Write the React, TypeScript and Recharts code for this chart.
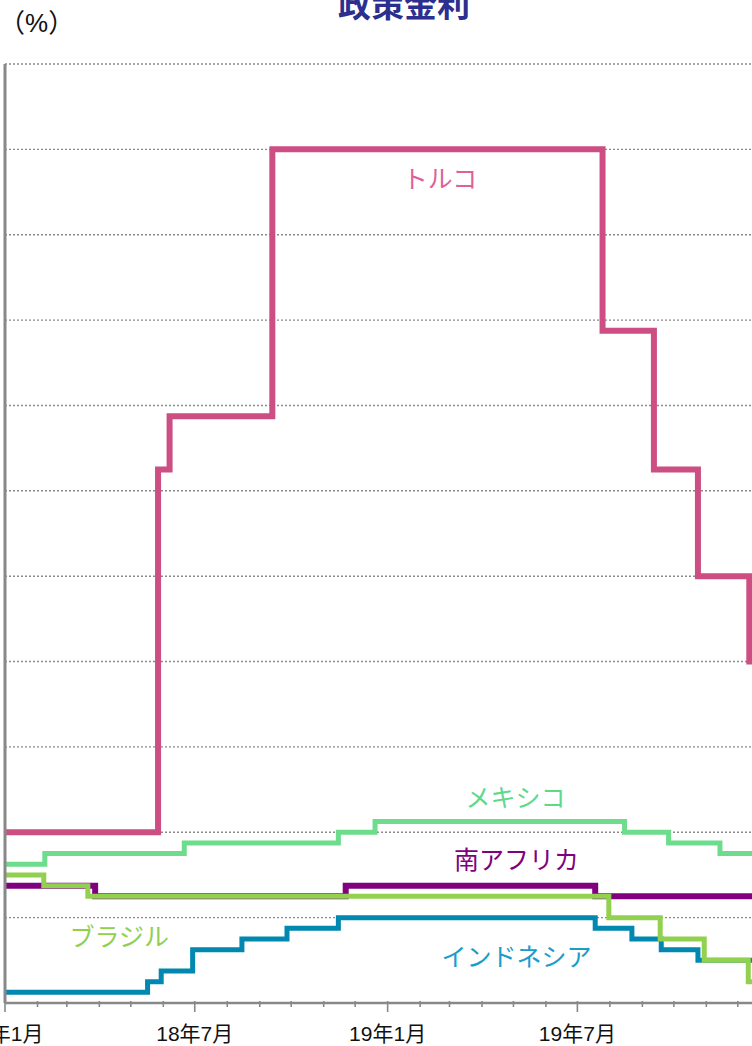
import React from 'react';
import { LineChart, Line, XAxis, YAxis, CartesianGrid, ReferenceDot } from 'recharts';

const START = Date.UTC(2018, 0, 1);
const dayOf = (s: string) => {
  const [y, m, d] = s.split('-').map(Number);
  return Math.round((Date.UTC(y, m - 1, d || 1) - START) / 86400000);
};

const DOMAIN_END = '2020-01-16';

const turkeyDates = ['2018-01-01', '2018-05-27', '2018-06-07', '2018-09-13', '2019-07-25', '2019-09-12', '2019-10-24', '2019-12-12', DOMAIN_END];
const turkeyRates = [8, 16.5, 17.75, 24, 19.75, 16.5, 14, 12, 12];

const mexicoDates = ['2018-01-01', '2018-02-08', '2018-06-21', '2018-11-15', '2018-12-20', '2019-08-15', '2019-09-26', '2019-11-14', '2019-12-19', DOMAIN_END];
const mexicoRates = [7.25, 7.5, 7.75, 8, 8.25, 8, 7.75, 7.5, 7.25, 7.25];

const southAfricaDates = ['2018-01-01', '2018-03-28', '2018-11-22', '2019-07-18', DOMAIN_END];
const southAfricaRates = [6.75, 6.5, 6.75, 6.5, 6.5];

const brazilDates = ['2018-01-01', '2018-02-07', '2018-03-21', '2019-07-31', '2019-09-18', '2019-10-30', '2019-12-11', DOMAIN_END];
const brazilRates = [7, 6.75, 6.5, 6, 5.5, 5, 4.5, 4.5];

const indonesiaDates = ['2018-01-01', '2018-05-17', '2018-05-30', '2018-06-29', '2018-08-15', '2018-09-27', '2018-11-15', '2019-07-18', '2019-08-22', '2019-09-19', '2019-10-24', DOMAIN_END];
const indonesiaRates = [4.25, 4.5, 4.75, 5.25, 5.5, 5.75, 6, 5.75, 5.5, 5.25, 5, 5];

const tickMonths = [
  '2018-01', '2018-02', '2018-03', '2018-04', '2018-05', '2018-06', '2018-07', '2018-08', '2018-09', '2018-10', '2018-11', '2018-12',
  '2019-01', '2019-02', '2019-03', '2019-04', '2019-05', '2019-06', '2019-07', '2019-08', '2019-09', '2019-10', '2019-11', '2019-12',
  '2020-01',
];
const majorMonths = ['2018-01', '2018-07', '2019-01', '2019-07', '2020-01'];
const majorLabels: Record<string, string> = {
  '2018-01': '18年1月',
  '2018-07': '18年7月',
  '2019-01': '19年1月',
  '2019-07': '19年7月',
};
const yTicks = [4, 6, 8, 10, 12, 14, 16, 18, 20, 22, 24, 26];

const build = (dates: string[], rates: number[]) => dates.map((d, i) => ({ d: dayOf(d), v: rates[i] }));

const turkey = build(turkeyDates, turkeyRates);
const mexico = build(mexicoDates, mexicoRates);
const southAfrica = build(southAfricaDates, southAfricaRates);
const brazil = build(brazilDates, brazilRates);
const indonesia = build(indonesiaDates, indonesiaRates);

const tickDays = tickMonths.map((m) => dayOf(m + '-01'));
const majorDays = new Set(majorMonths.map((m) => dayOf(m + '-01')));
const labelByDay: Record<number, string> = {};
tickMonths.forEach((m) => {
  if (majorLabels[m]) labelByDay[dayOf(m + '-01')] = majorLabels[m];
});

const FONT = '"Liberation Sans", Arial, "Noto Sans CJK JP", sans-serif';
const CJK = '"Noto Sans CJK JP", sans-serif';

const MonthTick = (props: any) => {
  const { x, y, payload } = props;
  const label = labelByDay[payload.value];
  const major = majorDays.has(payload.value);
  return (
    <g>
      <line x1={x} x2={x} y1={y - 2} y2={y + (major ? 9 : 4)} stroke="#888" strokeWidth={1.6} />
      {label && (
        <text x={x} y={y + 38} textAnchor="middle" fontSize={21} fill="#111" fontFamily={FONT}>
          {label}
        </text>
      )}
    </g>
  );
};

const EmptyTick = () => <g />;

const labelStyle = (value: string, fill: string) => ({
  value,
  position: 'center' as const,
  fill,
  fontSize: 25,
  fontFamily: CJK,
});

export default function App() {
  return (
    <div
      style={{
        position: 'fixed',
        left: 0,
        top: 0,
        width: 752,
        height: 1046,
        overflow: 'hidden',
        background: '#fff',
        fontFamily: FONT,
      }}
    >
      <div
        style={{
          position: 'absolute',
          left: 338,
          top: -13,
          fontSize: 33,
          lineHeight: '33px',
          fontWeight: 'bold',
          color: '#2b2f8f',
          fontFamily: CJK,
          whiteSpace: 'nowrap',
        }}
      >
        政策金利
      </div>
      <div
        style={{
          position: 'absolute',
          left: -1,
          top: 4,
          fontSize: 26,
          lineHeight: '34px',
          color: '#111',
          whiteSpace: 'nowrap',
        }}
      >
        <span style={{ fontFamily: CJK }}>（</span>
        <span style={{ fontFamily: '"Liberation Sans", Arial, sans-serif' }}>%</span>
        <span style={{ fontFamily: CJK }}>）</span>
      </div>
      <div style={{ position: 'absolute', left: -60, top: 0 }}>
        <LineChart width={846} height={1046} margin={{ top: 64, right: 0, bottom: 0, left: 0 }}>
          <CartesianGrid vertical={false} stroke="#8a8a8a" strokeDasharray="2 2" strokeWidth={1.4} />
          <XAxis
            dataKey="d"
            type="number"
            domain={[0, dayOf(DOMAIN_END)]}
            ticks={tickDays}
            interval={0}
            height={43}
            tickLine={false}
            tickSize={0}
            tickMargin={0}
            axisLine={{ stroke: '#888', strokeWidth: 2.5 }}
            tick={<MonthTick />}
            allowDataOverflow
          />
          <YAxis
            type="number"
            domain={[4, 26]}
            ticks={yTicks}
            interval={0}
            width={65}
            tick={<EmptyTick />}
            tickLine={false}
            axisLine={{ stroke: '#888', strokeWidth: 3 }}
            allowDataOverflow
          />
          <Line data={turkey} dataKey="v" type="stepAfter" stroke="#cc4e82" strokeWidth={6} dot={false} isAnimationActive={false} />
          <Line data={mexico} dataKey="v" type="stepAfter" stroke="#6ddc8c" strokeWidth={5} dot={false} isAnimationActive={false} />
          <Line data={indonesia} dataKey="v" type="stepAfter" stroke="#0088b0" strokeWidth={5} dot={false} isAnimationActive={false} />
          <Line data={southAfrica} dataKey="v" type="stepAfter" stroke="#800080" strokeWidth={6} dot={false} isAnimationActive={false} />
          <Line data={brazil} dataKey="v" type="stepAfter" stroke="#92d050" strokeWidth={5} dot={false} isAnimationActive={false} />
          <ReferenceDot x={415} y={23.3} r={0} fill="none" stroke="none" label={labelStyle('トルコ', '#e0609a')} />
          <ReferenceDot x={487} y={8.8} r={0} fill="none" stroke="none" label={labelStyle('メキシコ', '#5ed98a')} />
          <ReferenceDot x={488} y={7.35} r={0} fill="none" stroke="none" label={labelStyle('南アフリカ', '#800080')} />
          <ReferenceDot x={109} y={5.55} r={0} fill="none" stroke="none" label={labelStyle('ブラジル', '#8fd14f')} />
          <ReferenceDot x={488} y={5.08} r={0} fill="none" stroke="none" label={labelStyle('インドネシア', '#1a9dc8')} />
        </LineChart>
      </div>
    </div>
  );
}
